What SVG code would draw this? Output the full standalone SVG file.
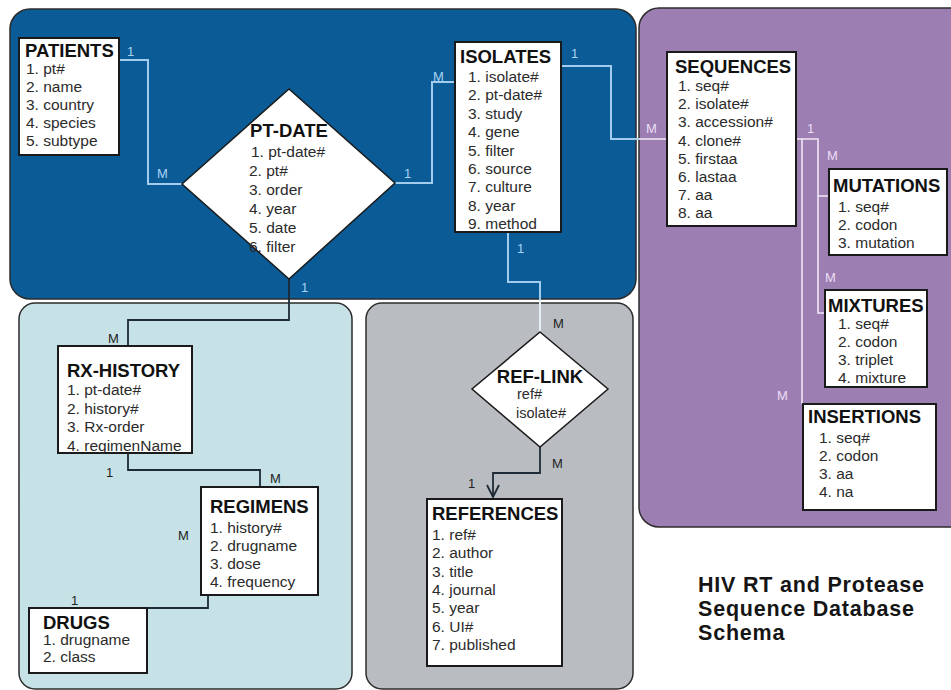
<svg xmlns="http://www.w3.org/2000/svg" width="951" height="690" viewBox="0 0 951 690">
<style>
text{font-family:"Liberation Sans",Arial,Helvetica,sans-serif}
.panel{stroke:#2c2c2c;stroke-width:1.5}
.box{fill:#fff;stroke:#1a1a1a;stroke-width:2}
.t{font-weight:bold;font-size:18.5px;fill:#111}
.i{font-size:15.5px;fill:#2b2b2b}
.ri{font-size:14.5px;fill:#2b2b2b}
.lb{font-size:13px;fill:#a9d3f3}
.ld{font-size:13px;fill:#222}
.lp{font-size:13px;fill:#ecdff3}
.cb{fill:none;stroke:#a2cdef;stroke-width:2}
.cd{fill:none;stroke:#1d2b38;stroke-width:1.8}
.cp{fill:none;stroke:#f1e6f5;stroke-width:1.6}
.ttl{font-weight:bold;font-size:21.5px;letter-spacing:0.8px;fill:#151515}
</style>
<defs>
<marker id="arr" markerWidth="16" markerHeight="14" refX="13" refY="7" orient="auto" markerUnits="userSpaceOnUse">
<path d="M1,1 L13,7 L1,13" fill="none" stroke="#1d2b38" stroke-width="1.8"/>
</marker>
</defs>
<rect width="951" height="690" fill="#fff"/>
<g id="panels">
<rect class="panel" x="639" y="8" width="330" height="519" rx="20" fill="#9d7eb3"/>
<rect class="panel" x="10" y="9" width="626" height="290" rx="20" fill="#0b5b96"/>
<rect class="panel" x="19" y="303" width="333" height="386" rx="16" fill="#c6e2e7"/>
<rect class="panel" x="366" y="303" width="267" height="386" rx="16" fill="#b9bdc1"/>
</g>
<g id="connectors">
<path class="cb" d="M119,60 H148 V184 H182"/>
<path class="cb" d="M395,183 H432 V82 H455"/>
<path class="cb" d="M561,66 H611 V139 H639"/>
<path class="cp" d="M639,139 H667"/>
<path class="cb" d="M508,232 V282 H540 V300"/>
<path class="cb" d="M540,300 V332" style="stroke:#e6eef5"/>
<path class="cd" d="M289,279 V320 H128 V346"/>
<path class="cd" d="M128,453 V470 H260 V487"/>
<path class="cd" d="M208,595 V608 H147"/>
<path class="cd" d="M540,447 V473 H493 V497" marker-end="url(#arr)"/>
<path class="cp" d="M796,139 H818 V196 H829"/>
<path class="cp" d="M818,196 V313 H825"/>
<path class="cp" d="M802,139 V404"/>
<text class="lb" x="127" y="56">1</text>
<text class="lb" x="157" y="178">M</text>
<text class="lb" x="404" y="178">1</text>
<text class="lb" x="433" y="81">M</text>
<text class="lb" x="571" y="58">1</text>
<text class="lb" x="517" y="253">1</text>
<text class="lb" x="301" y="292">1</text>
<text class="lp" x="646" y="133">M</text>
<text class="lp" x="807" y="133">1</text>
<text class="lp" x="827" y="160">M</text>
<text class="lp" x="825" y="282">M</text>
<text class="lp" x="777" y="400">M</text>
<text class="ld" x="108" y="343">M</text>
<text class="ld" x="106" y="477">1</text>
<text class="ld" x="270" y="483">M</text>
<text class="ld" x="178" y="540">M</text>
<text class="ld" x="71" y="605">1</text>
<text class="ld" x="553" y="328">M</text>
<text class="ld" x="552" y="468">M</text>
<text class="ld" x="468" y="488">1</text>
</g>
<g id="patients">
<rect class="box" x="19" y="38" width="100" height="117"/>
<text class="t" x="25" y="57">PATIENTS</text>
<text class="i"><tspan x="26" y="74">1. pt#</tspan><tspan x="26" y="92">2. name</tspan><tspan x="26" y="110">3. country</tspan><tspan x="26" y="128">4. species</tspan><tspan x="26" y="146">5. subtype</tspan></text>
</g>
<g id="pt-date">
<polygon points="182,184 289,89 395,183 289,279" fill="#fff" stroke="#1a1a1a" stroke-width="1.5"/>
<text class="t" x="289" y="137" text-anchor="middle">PT-DATE</text>
<text class="i"><tspan x="251" y="157">1. pt-date#</tspan><tspan x="249" y="176">2. pt#</tspan><tspan x="249" y="195">3. order</tspan><tspan x="249" y="214">4. year</tspan><tspan x="249" y="233">5. date</tspan><tspan x="249" y="252">6. filter</tspan></text>
</g>
<g id="isolates">
<rect class="box" x="455" y="42" width="106" height="190"/>
<text class="t" x="460" y="63">ISOLATES</text>
<text class="i"><tspan x="468" y="82">1. isolate#</tspan><tspan x="468" y="100.4">2. pt-date#</tspan><tspan x="468" y="118.8">3. study</tspan><tspan x="468" y="137.2">4. gene</tspan><tspan x="468" y="155.6">5. filter</tspan><tspan x="468" y="174">6. source</tspan><tspan x="468" y="192.4">7. culture</tspan><tspan x="468" y="210.8">8. year</tspan><tspan x="468" y="229.2">9. method</tspan></text>
</g>
<g id="sequences">
<rect class="box" x="667" y="52" width="129" height="174"/>
<text class="t" x="675" y="73">SEQUENCES</text>
<text class="i"><tspan x="678" y="91">1. seq#</tspan><tspan x="678" y="109.2">2. isolate#</tspan><tspan x="678" y="127.4">3. accession#</tspan><tspan x="678" y="145.6">4. clone#</tspan><tspan x="678" y="163.8">5. firstaa</tspan><tspan x="678" y="182">6. lastaa</tspan><tspan x="678" y="200.2">7. aa</tspan><tspan x="678" y="218.4">8. aa</tspan></text>
</g>
<g id="mutations">
<rect class="box" x="829" y="169" width="118" height="86"/>
<text class="t" x="833" y="192">MUTATIONS</text>
<text class="i"><tspan x="838" y="212">1. seq#</tspan><tspan x="838" y="230">2. codon</tspan><tspan x="838" y="248">3. mutation</tspan></text>
</g>
<g id="mixtures">
<rect class="box" x="825" y="290" width="102" height="97"/>
<text class="t" x="828" y="312">MIXTURES</text>
<text class="i"><tspan x="838" y="329">1. seq#</tspan><tspan x="838" y="347">2. codon</tspan><tspan x="838" y="365">3. triplet</tspan><tspan x="838" y="383">4. mixture</tspan></text>
</g>
<g id="insertions">
<rect class="box" x="803" y="404" width="133" height="106"/>
<text class="t" x="808" y="423">INSERTIONS</text>
<text class="i"><tspan x="819" y="443">1. seq#</tspan><tspan x="819" y="461">2. codon</tspan><tspan x="819" y="479">3. aa</tspan><tspan x="819" y="497">4. na</tspan></text>
</g>
<g id="rx-history">
<rect class="box" x="58" y="346" width="134" height="107"/>
<text class="t" x="67" y="377">RX-HISTORY</text>
<text class="i"><tspan x="67" y="395">1. pt-date#</tspan><tspan x="67" y="413.5">2. history#</tspan><tspan x="67" y="432">3. Rx-order</tspan><tspan x="67" y="450.5">4. regimenName</tspan></text>
</g>
<g id="regimens">
<rect class="box" x="201" y="487" width="117" height="108"/>
<text class="t" x="210" y="513">REGIMENS</text>
<text class="i"><tspan x="210" y="533">1. history#</tspan><tspan x="210" y="551">2. drugname</tspan><tspan x="210" y="569">3. dose</tspan><tspan x="210" y="587">4. frequency</tspan></text>
</g>
<g id="drugs">
<rect class="box" x="29" y="608" width="118" height="65"/>
<text class="t" x="43" y="629">DRUGS</text>
<text class="i"><tspan x="43" y="645">1. drugname</tspan><tspan x="43" y="662">2. class</tspan></text>
</g>
<g id="ref-link">
<polygon points="540,332 608,389 540,447 472,389" fill="#fff" stroke="#1a1a1a" stroke-width="1.5"/>
<text class="t" x="540" y="383" text-anchor="middle">REF-LINK</text>
<text class="ri"><tspan x="517" y="399">ref#</tspan><tspan x="516" y="418">isolate#</tspan></text>
</g>
<g id="references">
<rect class="box" x="427" y="499" width="135" height="167"/>
<text class="t" x="432" y="520">REFERENCES</text>
<text class="i"><tspan x="432" y="540">1. ref#</tspan><tspan x="432" y="558.3">2. author</tspan><tspan x="432" y="576.6">3. title</tspan><tspan x="432" y="594.9">4. journal</tspan><tspan x="432" y="613.2">5. year</tspan><tspan x="432" y="631.5">6. UI#</tspan><tspan x="432" y="649.8">7. published</tspan></text>
</g>
<g id="title">
<text class="ttl"><tspan x="698" y="592">HIV RT and Protease</tspan><tspan x="698" y="616">Sequence Database</tspan><tspan x="698" y="640">Schema</tspan></text>
</g>
</svg>
